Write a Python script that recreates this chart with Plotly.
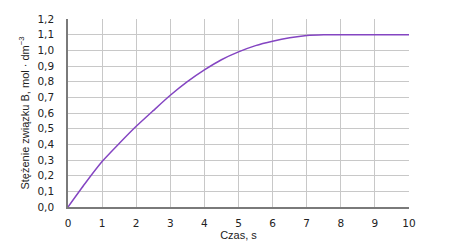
import plotly.graph_objects as go

czas = [0, 0.5, 1, 1.5, 2, 2.5, 3, 3.5, 4, 4.5, 5, 5.5, 6, 6.5, 7, 7.5, 8, 8.5, 9, 9.5, 10]
stezenie = [0.0, 0.15, 0.29, 0.405, 0.515, 0.615, 0.713, 0.800, 0.875, 0.940, 0.990, 1.030, 1.058, 1.080, 1.095, 1.1, 1.1, 1.1, 1.1, 1.1, 1.1]

x_ticks = list(range(0, 11))
x_labels = [str(v) for v in x_ticks]
y_ticks = [i / 10 for i in range(0, 13)]
y_labels = [f"{v:.1f}".replace(".", ",") for v in y_ticks]

fig = go.Figure()
fig.add_trace(go.Scatter(x=czas, y=stezenie, mode="lines",
                         line=dict(color="#8445c2", width=1.5, shape="spline", smoothing=0.6),
                         hoverinfo="skip", showlegend=False))

tick_font = dict(family="DejaVu Sans", size=10.5, color="#222222")
fig.update_layout(
    width=458, height=250,
    margin=dict(l=68, r=49, t=19, b=43),
    paper_bgcolor="white", plot_bgcolor="white",
    xaxis=dict(range=[0, 10], tickvals=x_ticks, ticktext=x_labels,
               showgrid=True, gridcolor="#c8c8c8", gridwidth=1.3,
               showline=True, linecolor="#7a7a7a", linewidth=1.5,
               ticks="", ticklabelstandoff=6, tickfont=tick_font, zeroline=False,
               title=dict(text="Czas, s", font=dict(family="Liberation Sans", size=11, color="#222222"),
                          standoff=2)),
    yaxis=dict(range=[0, 1.2], tickvals=y_ticks, ticktext=y_labels,
               showgrid=True, gridcolor="#c8c8c8", gridwidth=1.3,
               showline=True, linecolor="#7a7a7a", linewidth=1.5,
               ticks="", ticklabelstandoff=10, tickfont=tick_font, zeroline=False,
               title=dict(text="Stężenie związku B, mol · dm<sup>−3</sup>",
                          font=dict(family="Liberation Sans", size=11, color="#222222"),
                          standoff=6)),
)
fig.write_html("out.html")
